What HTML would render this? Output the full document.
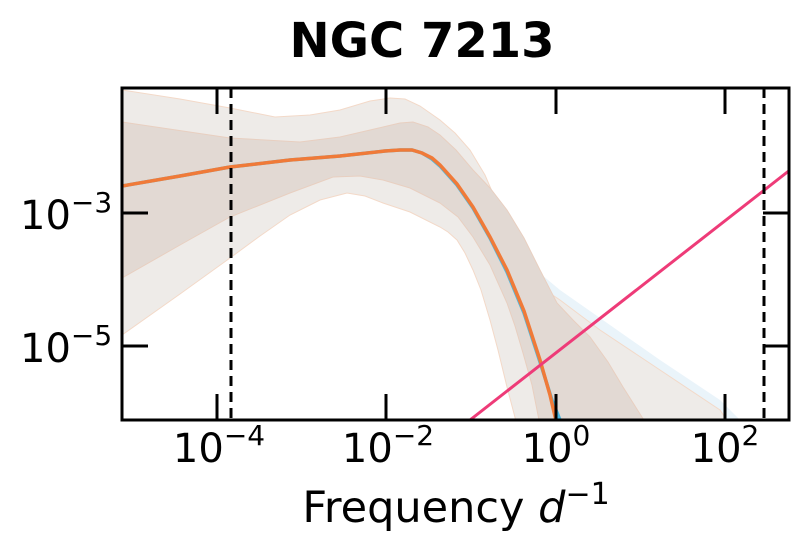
<!DOCTYPE html>
<html><head><meta charset="utf-8"><style>body{margin:0;background:#fff}svg{display:block}</style></head><body>
<svg width="808" height="552" xmlns="http://www.w3.org/2000/svg" font-family="DejaVu Sans, Liberation Sans, sans-serif">
<defs><clipPath id="c"><rect x="122" y="88" width="667" height="332"/></clipPath></defs>
<g clip-path="url(#c)">
<path d="M440,120 L470,150 L500,205 L530,265 L560,290 L600,318 L660,360 L720,400 L745,425 L600,425 L540,420 Z" fill="#eaf4fa"/>
<path d="M122,90 L180,99 L230,108 L275,117 L310,115 L340,110 L370,101 L390,98 L405,99 L420,106 L440,120 L455,133 L470,150 L485,175 L500,210 L515,245 L530,275 L545,290 L560,300 L600,330 L660,370 L720,410 L730,425 L517,425 L507,387 L498,350 L490,320 L481,290 L473,270 L465,253 L457,240 L448,232 L440,227 L410,212 L383,203 L365,196 L347,193 L320,200 L290,215 L260,236 L230,258 L180,294 L122,335 Z" fill="#eeebe8" stroke="#f3d9c8" stroke-width="1"/>
<path d="M122,122 L230,138 L300,142 L340,137 L383,127 L400,123 L413,122 L428,127 L440,135 L456,150 L473,170 L490,188 L507,210 L524,238 L540,270 L557,303 L573,320 L590,337 L608,362 L623,387 L647,425 L540,425 L532,385 L523,353 L515,326 L507,303 L490,265 L473,237 L458,217 L440,203 L410,188 L383,180 L360,176 L333,177 L290,193 L230,217 L180,245 L122,278 Z" fill="#e2d9d3" stroke="#e8cfc0" stroke-width="1"/>
<path d="M122,186 L180,176 L230,167 L290,160 L340,156 L385,151 L400,150 L412,150 L422,153 L432,159 L440,166 L457,185 L473,208 L490,238 L507,272 L524,313 L540,362 L552,400 L562,425" fill="none" stroke="#4cb8e0" stroke-width="3.5"/>
<path d="M122,186 L180,176 L230,167 L290,160 L340,156 L385,151 L400,150 L412,150 L422,153 L432,158 L440,165 L457,184 L473,207 L490,237 L507,270 L524,311 L540,360 L550,395 L557,425" fill="none" stroke="#f07a38" stroke-width="3.5"/>
<line x1="470" y1="420" x2="790" y2="170" stroke="#ee3b78" stroke-width="3"/>
</g>
<line x1="231" y1="88" x2="231" y2="420" stroke="#000" stroke-width="3" stroke-dasharray="10,6"/>
<line x1="764" y1="88" x2="764" y2="420" stroke="#000" stroke-width="3" stroke-dasharray="10,6"/>
<rect x="122" y="88" width="667" height="332" fill="none" stroke="#000" stroke-width="3"/>
<g stroke="#000" stroke-width="3">
<line x1="217" y1="88" x2="217" y2="114"/><line x1="386" y1="88" x2="386" y2="114"/><line x1="556" y1="88" x2="556" y2="114"/><line x1="725" y1="88" x2="725" y2="114"/>
<line x1="217" y1="420" x2="217" y2="394"/><line x1="386" y1="420" x2="386" y2="394"/><line x1="556" y1="420" x2="556" y2="394"/><line x1="725" y1="420" x2="725" y2="394"/>
<line x1="122" y1="213" x2="148" y2="213"/><line x1="122" y1="346" x2="148" y2="346"/>
<line x1="789" y1="213" x2="763" y2="213"/><line x1="789" y1="346" x2="763" y2="346"/>
</g>
<g fill="#000" style="font-size:40px">
<text x="219" y="462" text-anchor="middle">10<tspan style="font-size:28px" dy="-17">−4</tspan></text>
<text x="388" y="462" text-anchor="middle">10<tspan style="font-size:28px" dy="-17">−2</tspan></text>
<text x="556" y="462" text-anchor="middle">10<tspan style="font-size:28px" dy="-17">0</tspan></text>
<text x="725" y="462" text-anchor="middle">10<tspan style="font-size:28px" dy="-17">2</tspan></text>
<text x="20" y="229">10<tspan style="font-size:28px" dy="-17">−3</tspan></text>
<text x="20" y="362">10<tspan style="font-size:28px" dy="-17">−5</tspan></text>
</g>
<text x="456" y="522" text-anchor="middle" style="font-size:43px">Frequency <tspan font-style="italic">d</tspan><tspan style="font-size:30px" dy="-18">−1</tspan></text>
<text x="422" y="57" text-anchor="middle" style="font-size:48px;font-weight:bold">NGC 7213</text>
</svg>
</body></html>
